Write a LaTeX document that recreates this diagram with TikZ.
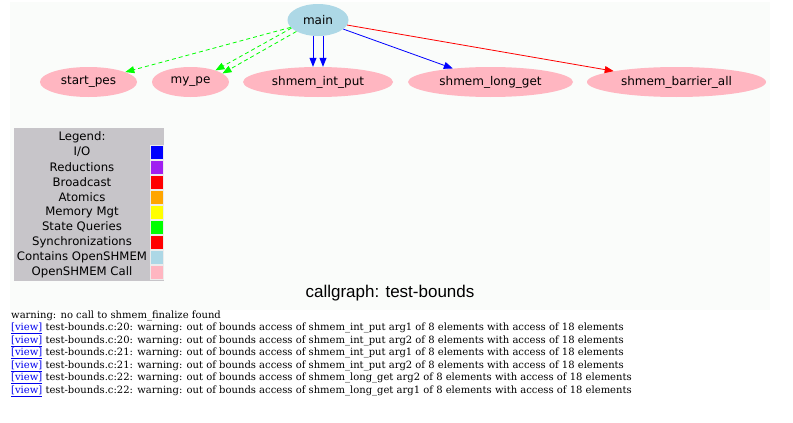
\documentclass[tikz,border=0pt]{standalone}
\usepackage{fontspec}
\newfontfamily\graphfont{DejaVu Sans}
\newfontfamily\titlefont{Liberation Sans}
\newfontfamily\warnfont{DejaVu Serif}
\usetikzlibrary{positioning,shapes.geometric,arrows.meta}
\definecolor{callpink}{RGB}{255,182,193}
\definecolor{mainblue}{RGB}{173,216,230}
\definecolor{graphbg}{RGB}{250,252,250}
\definecolor{legendgray}{RGB}{199,197,201}
\definecolor{linkblue}{RGB}{0,0,238}
\definecolor{iocol}{RGB}{0,0,255}
\definecolor{redcol}{RGB}{255,0,0}
\definecolor{purplecol}{RGB}{160,32,240}
\definecolor{orangecol}{RGB}{255,165,0}
\definecolor{yellowcol}{RGB}{255,255,0}
\definecolor{greencol}{RGB}{0,255,0}
\tikzset{
	fn/.style={ellipse, fill=callpink, inner sep=0pt, minimum height=30pt, font=\graphfont\fontsize{12}{14}\selectfont},
	call/.style={-{Stealth[length=9pt,width=7pt,inset=0pt]}, line width=0.8pt},
	query/.style={call, dash pattern=on 4pt off 3pt, draw=greencol},
	lgtext/.style={inner sep=0pt, font=\graphfont\fontsize{11.7}{13}\selectfont},
	swatch/.style={draw=white!85!gray, line width=0.4pt, minimum width=13pt, minimum height=14.6pt, inner sep=0pt},
	warn/.style={anchor=west, inner sep=0pt, font=\warnfont\fontsize{10}{12}\selectfont},
}
\newcommand{\viewlink}{\textcolor{linkblue}{\underline{[view]}}}

\begin{document}
\begin{tikzpicture}[x=1pt, y=-1pt]
	\useasboundingbox (0,0) rectangle (793,423);
	\fill[graphbg] (10,2) rectangle (770,310);

	% call graph
	\node[fn, fill=mainblue, minimum width=61pt, minimum height=32pt] (main) at (318, 20) {main};
	\node[fn, minimum width=97pt] (start_pes) at (88.5, 82) {start\_pes};
	\node[fn, minimum width=77pt] (my_pe) at (190.5, 82) {my\_pe};
	\node[fn, minimum width=150pt] (int_put) at (318, 82) {shmem\_int\_put};
	\node[fn, minimum width=165pt] (long_get) at (490.5, 82) {shmem\_long\_get};
	\node[fn, minimum width=179pt] (barrier) at (676.5, 82) {shmem\_barrier\_all};

	\draw [query] (main) to (start_pes);
	\draw [query] (main.197) to (my_pe.25);
	\draw [query] (main.208) to (my_pe.15);
	\draw [call, draw=iocol] ([xshift=-5pt]main.south) to ([xshift=-5pt]int_put.north);
	\draw [call, draw=iocol] ([xshift=5pt]main.south) to ([xshift=5pt]int_put.north);
	\draw [call, draw=iocol] (main) to (long_get);
	\draw [call, draw=redcol] (main) to (barrier);

	% legend
	\fill[legendgray] (14,128) rectangle (164,281);
	\node[lgtext] (lg) at (82, 137) {Legend:};
	\node[lgtext] (lg1) at (82, 152) {I/O};
	\node[lgtext] (lg2) at (82, 167) {Reductions};
	\node[lgtext] (lg3) at (82, 182) {Broadcast};
	\node[lgtext] (lg4) at (82, 197) {Atomics};
	\node[lgtext] (lg5) at (82, 212) {Memory Mgt};
	\node[lgtext] (lg6) at (82, 227) {State Queries};
	\node[lgtext] (lg7) at (82, 242) {Synchronizations};
	\node[lgtext] (lg8) at (82, 257) {Contains OpenSHMEM};
	\node[lgtext] (lg9) at (82, 272) {OpenSHMEM Call};
	\node[swatch, fill=iocol] (sw1) at (157, 152) {};
	\node[swatch, fill=purplecol] (sw2) at (157, 167) {};
	\node[swatch, fill=redcol] (sw3) at (157, 182) {};
	\node[swatch, fill=orangecol] (sw4) at (157, 197) {};
	\node[swatch, fill=yellowcol] (sw5) at (157, 212) {};
	\node[swatch, fill=greencol] (sw6) at (157, 227) {};
	\node[swatch, fill=redcol] (sw7) at (157, 242) {};
	\node[swatch, fill=mainblue] (sw8) at (157, 257) {};
	\node[swatch, fill=callpink] (sw9) at (157, 272) {};

	\node[font=\titlefont\fontsize{17}{19}\selectfont, inner sep=0pt] (title) at (390, 293) {callgraph: test-bounds};

	% warnings
	\node[warn] (w0) at (11, 316) {warning: no call to shmem\_finalize found};
	\node[warn] (w1) at (11, 328.5) {\viewlink{} test-bounds.c:20: warning: out of bounds access of shmem\_int\_put arg1 of 8 elements with access of 18 elements};
	\node[warn] (w2) at (11, 341) {\viewlink{} test-bounds.c:20: warning: out of bounds access of shmem\_int\_put arg2 of 8 elements with access of 18 elements};
	\node[warn] (w3) at (11, 353.5) {\viewlink{} test-bounds.c:21: warning: out of bounds access of shmem\_int\_put arg1 of 8 elements with access of 18 elements};
	\node[warn] (w4) at (11, 366) {\viewlink{} test-bounds.c:21: warning: out of bounds access of shmem\_int\_put arg2 of 8 elements with access of 18 elements};
	\node[warn] (w5) at (11, 378.5) {\viewlink{} test-bounds.c:22: warning: out of bounds access of shmem\_long\_get arg2 of 8 elements with access of 18 elements};
	\node[warn] (w6) at (11, 391) {\viewlink{} test-bounds.c:22: warning: out of bounds access of shmem\_long\_get arg1 of 8 elements with access of 18 elements};
\end{tikzpicture}
\end{document}
